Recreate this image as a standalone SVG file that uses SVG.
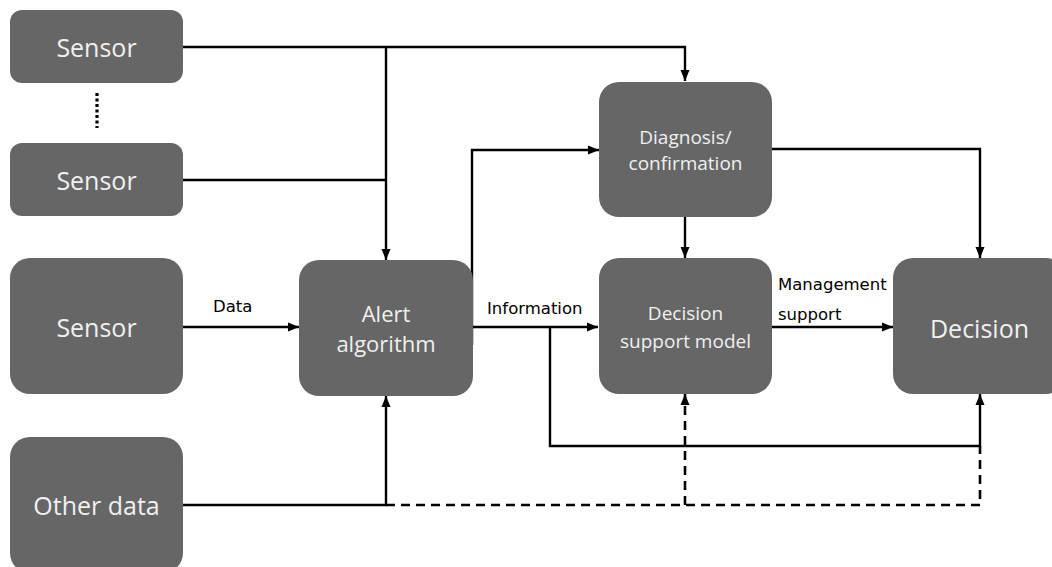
<svg xmlns="http://www.w3.org/2000/svg" width="1052" height="567" viewBox="0 0 1052 567">
<defs>
<marker id="arr" markerUnits="userSpaceOnUse" markerWidth="12" markerHeight="10" refX="11" refY="5" orient="auto">
<path d="M0,0.5 L11,5 L0,9.5 z" fill="#000"/>
</marker>
<style>
.box{fill:#666666}
.t{fill:#f0f0f0;font-family:"Open Sans","Noto Sans",sans-serif;text-anchor:middle;dominant-baseline:central}
.lbl{fill:#000;font-family:"DejaVu Sans",sans-serif;font-size:16.5px;dominant-baseline:central}
.ln{fill:none;stroke:#000;stroke-width:2.4}
.dash{fill:none;stroke:#000;stroke-width:2.6;stroke-dasharray:9 6}
</style>
</defs>
<rect width="1052" height="567" fill="#fff"/>
<g id="connectors">
<path class="ln" d="M183,47 H685 V81" marker-end="url(#arr)"/>
<path class="ln" d="M386,47 V260" marker-end="url(#arr)"/>
<path class="ln" d="M183,180 H386"/>
<path class="ln" d="M183,327 H299" marker-end="url(#arr)"/>
<path class="ln" d="M183,505 H386 V396" marker-end="url(#arr)"/>
<path class="dash" d="M386,505 H980 V446"/>
<path class="dash" d="M685,505 V394" marker-end="url(#arr)"/>
<path class="ln" d="M472,345 V150 H599" marker-end="url(#arr)"/>
<path class="ln" d="M473,327 H598" marker-end="url(#arr)"/>
<path class="ln" d="M550,327 V446 H980 V394" marker-end="url(#arr)"/>
<path class="ln" d="M685,217 V258" marker-end="url(#arr)"/>
<path class="ln" d="M772,149 H980 V258" marker-end="url(#arr)"/>
<path class="ln" d="M772,327 H893" marker-end="url(#arr)"/>
<path fill="none" stroke="#000" stroke-width="3.2" stroke-dasharray="3 2.5" d="M97,93 V128"/>
<text class="lbl" x="213" y="306">Data</text>
<text class="lbl" x="487" y="308">Information</text>
<text class="lbl" x="778" y="284">Management</text>
<text class="lbl" x="778" y="314">support</text>
</g>
<g id="sensor1"><rect class="box" x="10" y="10" width="173" height="73" rx="12"/><text class="t" x="96.5" y="47" font-size="25">Sensor</text></g>
<g id="sensor2"><rect class="box" x="10" y="143" width="173" height="73" rx="12"/><text class="t" x="96.5" y="180" font-size="25">Sensor</text></g>
<g id="sensor3"><rect class="box" x="10" y="258" width="173" height="136" rx="20"/><text class="t" x="96.5" y="327" font-size="25">Sensor</text></g>
<g id="otherdata"><rect class="box" x="10" y="437" width="173" height="136" rx="20"/><text class="t" x="96.5" y="505" font-size="25">Other data</text></g>
<g id="alert"><rect class="box" x="299" y="260" width="174" height="136" rx="20"/><text class="t" x="386" y="313" font-size="22">Alert</text><text class="t" x="386" y="343" font-size="22">algorithm</text></g>
<g id="diagnosis"><rect class="box" x="599" y="82" width="173" height="135" rx="20"/><text class="t" x="685.5" y="137" font-size="19">Diagnosis/</text><text class="t" x="685.5" y="163" font-size="19">confirmation</text></g>
<g id="dsm"><rect class="box" x="599" y="258" width="173" height="136" rx="20"/><text class="t" x="685.5" y="313" font-size="19">Decision</text><text class="t" x="685.5" y="341" font-size="19">support model</text></g>
<g id="decision"><rect class="box" x="893" y="258" width="173" height="136" rx="20"/><text class="t" x="979.5" y="328" font-size="25">Decision</text></g>
</svg>
